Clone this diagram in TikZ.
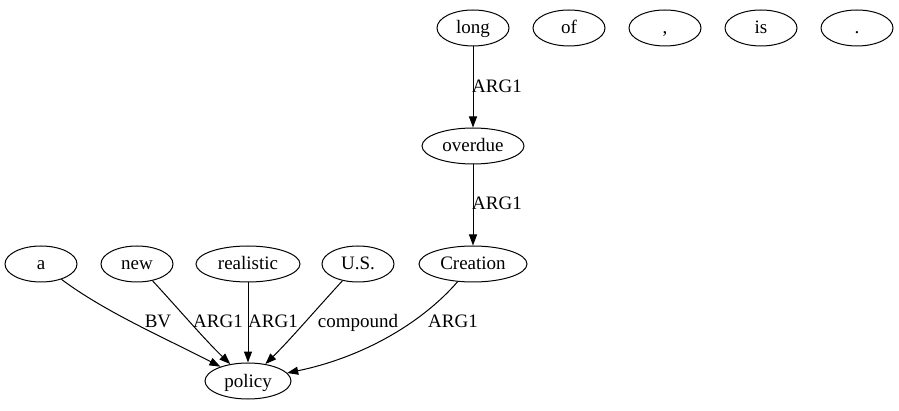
\documentclass[tikz,border=0pt]{standalone}
\usepackage{fontspec}
\setmainfont{Liberation Serif}
\usetikzlibrary{shapes.geometric,arrows.meta}
\begin{document}
\begin{tikzpicture}[x=1pt,y=-1pt,
  word/.style={draw,line width=1pt,ellipse,minimum height=36pt,inner sep=0pt,
    text height=16pt,text depth=4pt,font=\fontsize{19}{19}\selectfont},
  edge/.style={draw,line width=1pt,-{Triangle[length=11pt,width=8pt]}},
  lbl/.style={inner sep=0pt,text height=16pt,text depth=4pt,font=\fontsize{19}{19}\selectfont}]
\useasboundingbox (0,0) rectangle (899,411);
% top row
\node[word,minimum width=72pt] (long) at (473,28) {long};
\node[word,minimum width=72pt] (of) at (569,28) {of};
\node[word,minimum width=72pt] (comma) at (665,28) {,};
\node[word,minimum width=72pt] (is) at (761,28) {is};
\node[word,minimum width=72pt] (dot) at (857,28) {.};
% middle chain
\node[word,minimum width=102pt] (overdue) at (473,146) {overdue};
% modifier row
\node[word,minimum width=72pt] (a) at (41,264) {a};
\node[word,minimum width=72pt] (new) at (137,264) {new};
\node[word,minimum width=104pt] (realistic) at (248,264) {realistic};
\node[word,minimum width=72pt] (us) at (358,264) {U.S.};
\node[word,minimum width=108pt] (creation) at (473,264) {Creation};
% head
\node[word,minimum width=86pt] (policy) at (248,381) {policy};
% edges
\draw[edge] (long) -- (overdue);
\draw[edge] (overdue) -- (creation);
\draw[edge] (a) .. controls (105,312) and (165,338) .. (policy);
\draw[edge] (new) .. controls (175,305) and (205,340) .. (policy);
\draw[edge] (realistic) -- (policy);
\draw[edge] (us) .. controls (320,305) and (290,340) .. (policy);
\draw[edge] (creation) .. controls (420,325) and (360,358) .. (policy);
% edge labels
\node[lbl] (l1) at (158,322) {BV};
\node[lbl] (l2) at (218,322) {ARG1};
\node[lbl] (l3) at (273,322) {ARG1};
\node[lbl] (l4) at (358,322) {compound};
\node[lbl] (l5) at (453,322) {ARG1};
\node[lbl] (l6) at (497,87) {ARG1};
\node[lbl] (l7) at (497,204) {ARG1};
\end{tikzpicture}
\end{document}
